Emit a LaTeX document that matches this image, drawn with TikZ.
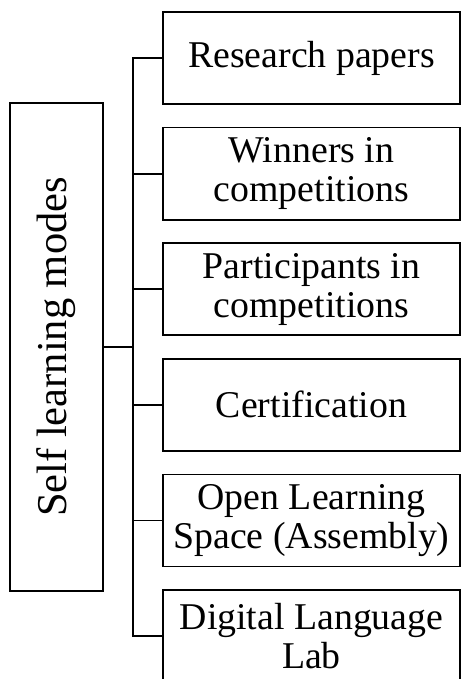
\documentclass[tikz,border=0pt]{standalone}
\usepackage{fontspec}
\setmainfont{Liberation Serif}

\begin{document}
\begin{tikzpicture}[x=1pt,y=-1pt,line width=1.8pt,
    modebox/.style={draw,minimum width=297pt,minimum height=92pt,inner sep=0pt,align=center,font=\fontsize{37.8}{39}\selectfont}]
  \useasboundingbox (0,0) rectangle (461,679);
  \node[draw,minimum width=93pt,minimum height=488pt,inner sep=0pt,font=\fontsize{42.5}{42}\selectfont] (self) at (56.5,347) {\rotatebox{90}{Self learning modes}};
  \coordinate (trunk) at (133,347);
  \foreach \i/\txt in {1/Research papers,2/Winners in\\competitions,3/Participants in\\competitions,
      4/Certification,5/Open Learning\\Space (Assembly),6/Digital Language\\Lab}
    \node[modebox] (mode\i) at (311.5,{58+115.6*(\i-1)}) {\txt};
  \draw (self.east) -- (trunk);
  \draw (mode1.west) -- (mode1.west -| trunk) -- (mode6.west -| trunk) -- (mode6.west);
  \foreach \i in {2,...,5} \draw (mode\i.west) -- (mode\i.west -| trunk);
\end{tikzpicture}
\end{document}
